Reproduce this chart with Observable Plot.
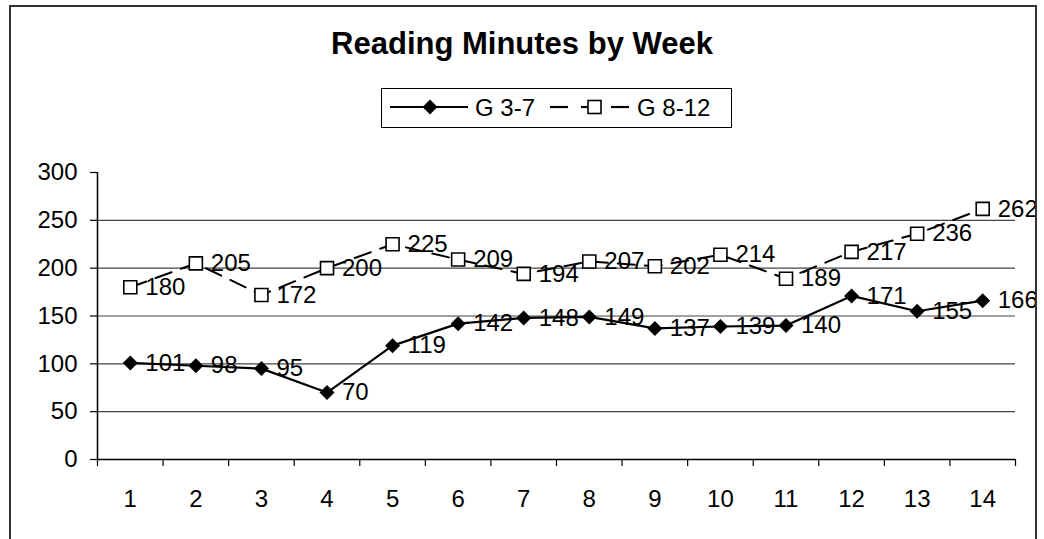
<!DOCTYPE html>
<html>
<head>
<meta charset="utf-8">
<script src="https://cdn.jsdelivr.net/npm/d3@7"></script>
<script src="https://cdn.jsdelivr.net/npm/@observablehq/plot@0.6"></script>
<style>
  html, body { margin: 0; padding: 0; background: #fff; }
  body { width: 1044px; height: 539px; position: relative; overflow: hidden; font-family: "Liberation Sans", Arial, sans-serif; }
  #chart { position: absolute; left: 0; top: 0; }
  #title { position: absolute; left: 0; top: 28px; width: 1044px; text-align: center; font-size: 31px; line-height: 31px; font-weight: bold; color: #000; }
  #legend { position: absolute; left: 381px; top: 88px; width: 351px; height: 40px; box-sizing: border-box; border: 1px solid #000; background: #fff; }
  #border { position: absolute; left: 9px; top: 5px; width: 1024px; height: 600px; border: 2px solid #333; pointer-events: none; z-index: 5; }
</style>
</head>
<body>
<div id="chart"></div>
<div id="title">Reading Minutes by Week</div>
<div id="legend"></div>
<div id="border"></div>
<script>
const weeks = [1, 2, 3, 4, 5, 6, 7, 8, 9, 10, 11, 12, 13, 14];
const g37 = [101, 98, 95, 70, 119, 142, 148, 149, 137, 139, 140, 171, 155, 166];
const g812 = [180, 205, 172, 200, 225, 209, 194, 207, 202, 214, 189, 217, 236, 262];
const yTicks = [0, 50, 100, 150, 200, 250, 300];
const gridValues = [50, 100, 150, 200, 250];
const seriesNames = ["G 3-7", "G 8-12"];

const rowsA = weeks.map((w, i) => ({week: w, value: g37[i]}));
const rowsB = weeks.map((w, i) => ({week: w, value: g812[i]}));
const boundaries = weeks.map(w => w - 0.5).concat([weeks[weeks.length - 1] + 0.5]);
const xMin = boundaries[0], xMax = boundaries[boundaries.length - 1];

const diamond = {draw(ctx) { const r = 7.5; ctx.moveTo(0, -r); ctx.lineTo(r, 0); ctx.lineTo(0, r); ctx.lineTo(-r, 0); ctx.closePath(); }};
const square = {draw(ctx) { const h = 6.5; ctx.moveTo(-h, -h); ctx.lineTo(h, -h); ctx.lineTo(h, h); ctx.lineTo(-h, h); ctx.closePath(); }};

const font = "Liberation Sans, Arial, sans-serif";
const fs = 24;

const chart = Plot.plot({
  width: 1044,
  height: 539,
  marginLeft: 97,
  marginRight: 29,
  marginTop: 172,
  marginBottom: 80,
  style: {fontFamily: font, fontSize: fs + "px", color: "#000", background: "transparent"},
  x: {type: "linear", domain: [xMin, xMax]},
  y: {domain: [0, 300]},
  marks: [
    Plot.ruleY(gridValues, {x1: xMin, x2: xMax, stroke: "#444", strokeWidth: 1.2}),
    Plot.ruleY([0], {x1: xMin, x2: xMax, stroke: "#000", strokeWidth: 1.5}),
    Plot.ruleX([xMin], {y1: 0, y2: 300, stroke: "#000", strokeWidth: 1.5}),
    Plot.axisY({ticks: yTicks, tickSize: 7, tickPadding: 13, fontSize: fs, stroke: "#000", strokeWidth: 1.2, label: null}),
    Plot.axisX({ticks: boundaries, tickSize: 7, tickFormat: () => "", stroke: "#000", strokeWidth: 1.2, label: null}),
    Plot.axisX({ticks: weeks, tickSize: 0, tickPadding: 30, fontSize: fs, label: null, tickFormat: d => String(d)}),
    Plot.line(rowsB, {x: "week", y: "value", stroke: "#000", strokeWidth: 2, strokeDasharray: "17,10"}),
    Plot.line(rowsA, {x: "week", y: "value", stroke: "#000", strokeWidth: 2.2}),
    Plot.dot(rowsB, {x: "week", y: "value", symbol: square, fill: "#fff", stroke: "#000", strokeWidth: 1.6}),
    Plot.dot(rowsA, {x: "week", y: "value", symbol: diamond, fill: "#000", stroke: "none"}),
    Plot.text(rowsB, {x: "week", y: "value", text: d => String(d.value), dx: 15, textAnchor: "start", fontSize: fs, fill: "#000"}),
    Plot.text(rowsA, {x: "week", y: "value", text: d => String(d.value), dx: 15, textAnchor: "start", fontSize: fs, fill: "#000"})
  ]
});
document.getElementById("chart").appendChild(chart);

// Legend
const lg = d3.select("#legend").append("svg").attr("width", 349).attr("height", 38)
  .style("display", "block").style("font-family", font);
const ox = 382, oy = 89;
const cy = 107 - oy;
lg.append("line").attr("x1", 390 - ox).attr("x2", 468 - ox).attr("y1", cy).attr("y2", cy).attr("stroke", "#000").attr("stroke-width", 2.2);
lg.append("path").attr("transform", `translate(${430 - ox},${cy})`).attr("d", "M0,-7.5L7.5,0L0,7.5L-7.5,0Z").attr("fill", "#000");
lg.append("text").attr("x", 475 - ox).attr("y", cy + 8.6).attr("font-size", fs).text(seriesNames[0]);
lg.append("line").attr("x1", 550 - ox).attr("x2", 568 - ox).attr("y1", cy).attr("y2", cy).attr("stroke", "#000").attr("stroke-width", 2.2);
lg.append("line").attr("x1", 611 - ox).attr("x2", 629 - ox).attr("y1", cy).attr("y2", cy).attr("stroke", "#000").attr("stroke-width", 2.2);
lg.append("line").attr("x1", 581 - ox).attr("x2", 588 - ox).attr("y1", cy).attr("y2", cy).attr("stroke", "#000").attr("stroke-width", 2.2);
lg.append("rect").attr("x", 588 - ox).attr("y", cy - 6.5).attr("width", 13).attr("height", 13).attr("fill", "#fff").attr("stroke", "#000").attr("stroke-width", 1.6);
lg.append("text").attr("x", 637 - ox).attr("y", cy + 8.6).attr("font-size", fs).text(seriesNames[1]);
</script>
</body>
</html>
